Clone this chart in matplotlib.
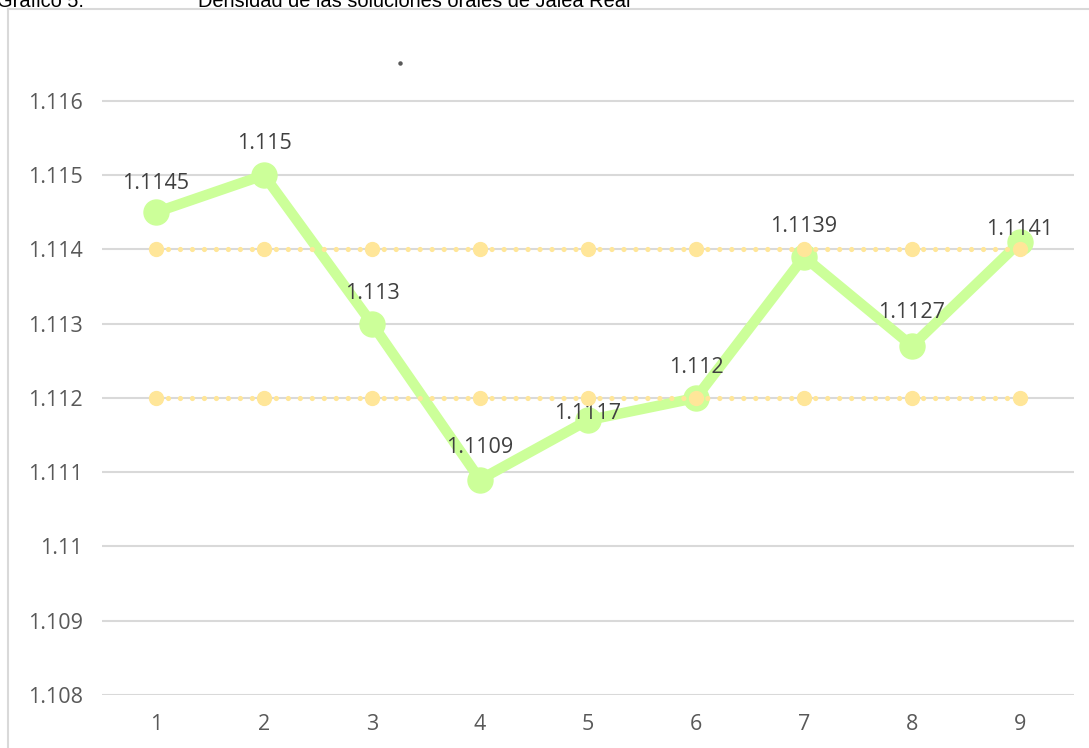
import numpy as np
import matplotlib
matplotlib.use("Agg")
import matplotlib.pyplot as plt
from matplotlib.lines import Line2D

# data
muestras = [1, 2, 3, 4, 5, 6, 7, 8, 9]
densidad = [1.1145, 1.115, 1.113, 1.1109, 1.1117, 1.112, 1.1139, 1.1127, 1.1141]
limite_sup = [1.114] * 9
limite_inf = [1.112] * 9
etiquetas = ["1.1145", "1.115", "1.113", "1.1109", "1.1117", "1.112", "1.1139", "1.1127", "1.1141"]
y_ticks = [1.108, 1.109, 1.11, 1.111, 1.112, 1.113, 1.114, 1.115, 1.116]
y_ticklabels = ["1.108", "1.109", "1.11", "1.111", "1.112", "1.113", "1.114", "1.115", "1.116"]

# label offsets above each point (points), two were nudged by hand in the original
label_offset = [21, 23, 22, 23, 5, 22, 22, 24, 9]

plt.rcParams["font.family"] = ["Open Sans", "DejaVu Sans"]

fig = plt.figure(figsize=(10.89, 7.48), dpi=100)
ax = fig.add_axes([102 / 1089, 1 - 695 / 748, (1074 - 102) / 1089, (695 - 60) / 748])

green = "#ccff99"
yellow = "#ffe699"
grid = "#d9d9d9"

ax.set_xlim(0.5, 9.5)
ax.set_ylim(1.108, 1.11655)
ax.set_yticks(y_ticks)
ax.set_yticklabels(y_ticklabels)
ax.set_xticks(muestras)
ax.set_xticklabels([str(m) for m in muestras])

for y in y_ticks:
    ax.axhline(y, color=grid, lw=1.5, zorder=0)

for s in ax.spines.values():
    s.set_visible(False)
ax.tick_params(length=0, labelsize=15.5, colors="#595959", pad=14)

# main series
ax.plot(muestras, densidad, "-o", color=green, lw=7.5, markersize=18,
        solid_capstyle="round", zorder=2)

for x, y, t, off in zip(muestras, densidad, etiquetas, label_offset):
    ax.annotate(t, (x, y), xytext=(0, off), textcoords="offset points",
                ha="center", va="center", fontsize=15.5, color="#404040", zorder=3)

# limit series (dotted)
for lim in (limite_sup, limite_inf):
    ax.plot(muestras, lim, color=yellow, lw=3.8, linestyle=(0, (0.001, 2.27)),
            dash_capstyle="round", marker="o", markersize=10, zorder=4)

# chart area border (only left and top visible in the crop)
fig.add_artist(Line2D([8 / 1089, 8 / 1089], [0, 1 - 9 / 748], color=grid, lw=1.5))
fig.add_artist(Line2D([8 / 1089, 1], [1 - 9 / 748, 1 - 9 / 748], color=grid, lw=1.5))

# stray dot in the original
fig.add_artist(Line2D([400 / 1089], [1 - 63 / 748], marker="o", markersize=2.2,
                      color="#595959", linestyle="none"))

# cut-off caption above the chart
fig.text(-3 / 1089, 1 - 7 / 748, "Gráfico 5:", family="Liberation Sans",
         fontsize=14.4, color="black", va="baseline", ha="left")
fig.text(198 / 1089, 1 - 7 / 748, "Densidad de las soluciones orales de Jalea Real",
         family="Liberation Sans", fontsize=14.4, color="black", va="baseline", ha="left")

fig.savefig("out.png", dpi=100)
